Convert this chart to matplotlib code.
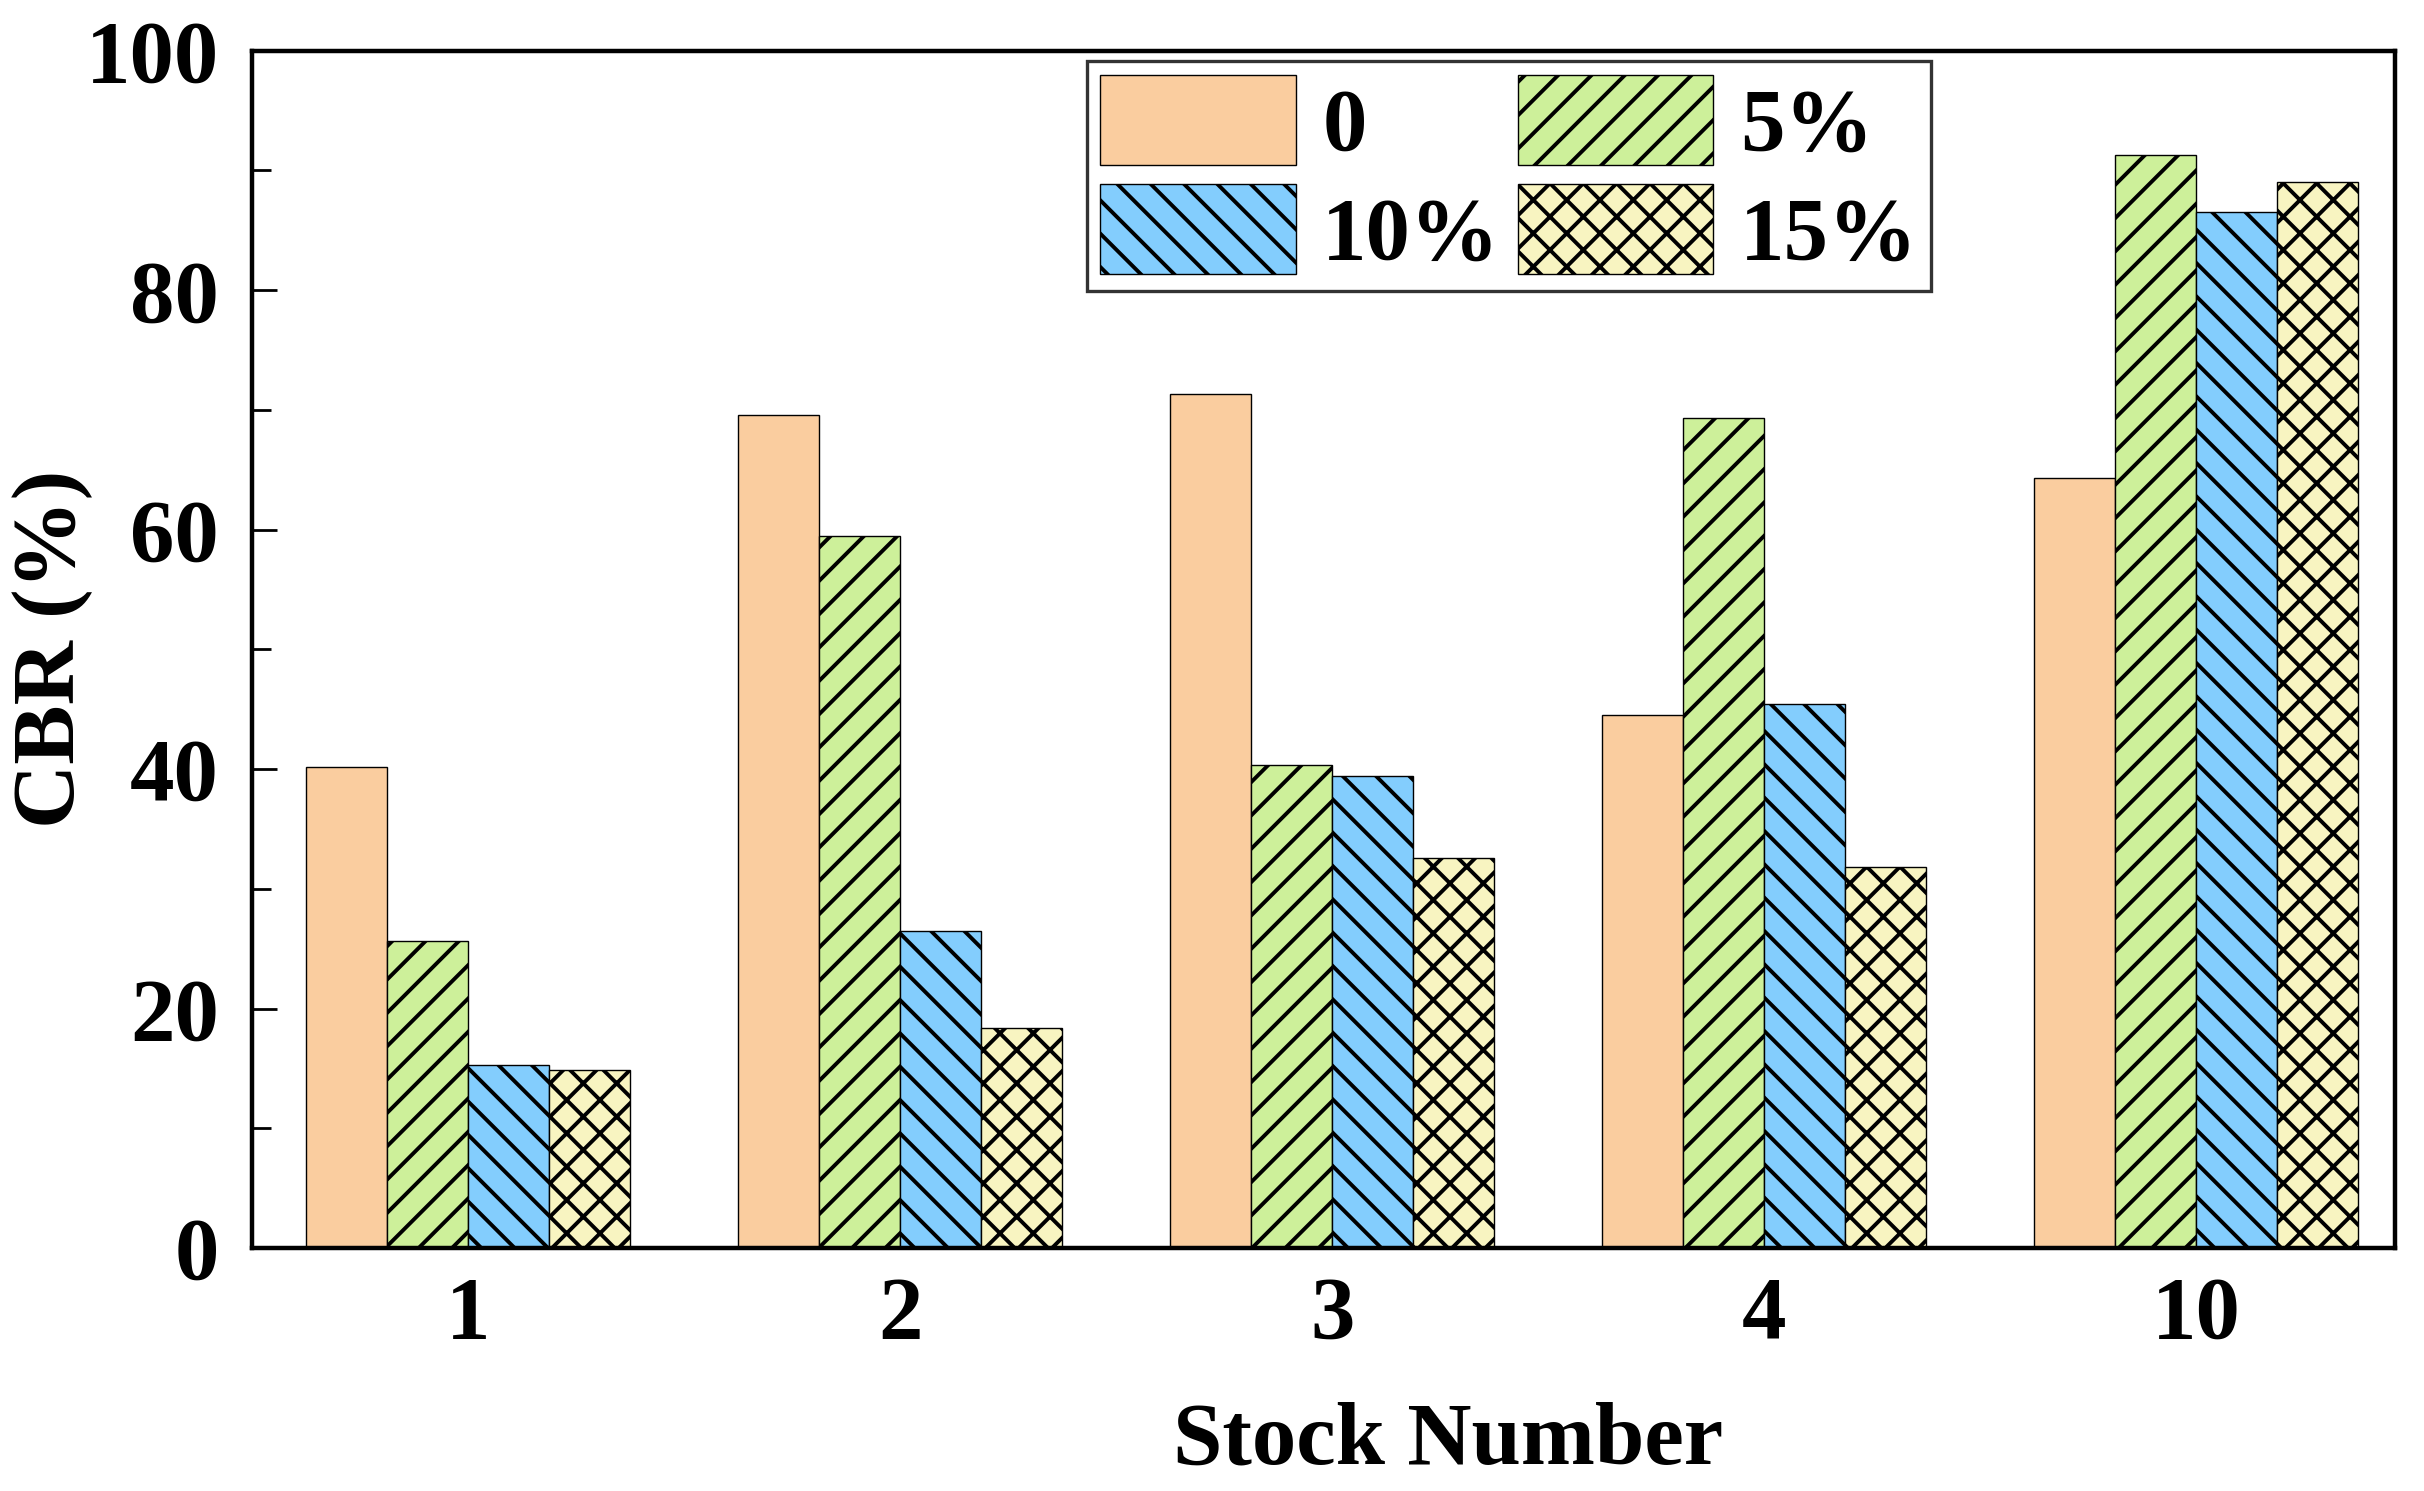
import numpy as np
import matplotlib
matplotlib.use("Agg")
import matplotlib.pyplot as plt
from matplotlib.ticker import MultipleLocator

categories = ["1", "2", "3", "4", "10"]
series_labels = ["0", "5%", "10%", "15%"]
cbr_0 = [40.2, 69.6, 71.3, 44.5, 64.3]
cbr_5 = [25.6, 59.5, 40.3, 69.3, 91.3]
cbr_10 = [15.3, 26.5, 39.4, 45.4, 86.5]
cbr_15 = [14.9, 18.4, 32.6, 31.8, 89.0]

colors = ["#FACD9F", "#CDF09A", "#83CDFD", "#F8F4C1"]
hatches = ["", "//", "\\\\", "xx"]

plt.rcParams["font.family"] = ["Liberation Serif", "DejaVu Serif"]
plt.rcParams["font.weight"] = "bold"
plt.rcParams["hatch.linewidth"] = 1.4
plt.rcParams["hatch.color"] = "black"

fig = plt.figure(figsize=(12.12, 7.455), dpi=200)
ax = fig.add_axes([0.104, 0.163, 0.884, 0.803])

x = np.arange(len(categories))
w = 0.1875
data = [cbr_0, cbr_5, cbr_10, cbr_15]
handles = []
for i, (vals, lab) in enumerate(zip(data, series_labels)):
    b = ax.bar(x + (i - 1.5) * w, vals, width=w, color=colors[i], edgecolor="black",
               linewidth=0.5, hatch=hatches[i], label=lab, zorder=2)
    handles.append(b)

ax.set_xlim(-0.5, 4.46)
ax.set_ylim(0, 100)
ax.set_xticks(x)
ax.set_xticklabels(categories)
ax.yaxis.set_major_locator(MultipleLocator(20))
ax.yaxis.set_minor_locator(MultipleLocator(10))

for s in ax.spines.values():
    s.set_linewidth(1.6)

ax.tick_params(axis="x", which="major", direction="in", length=10, width=1.6,
               labelsize=32, pad=10, top=False)
ax.tick_params(axis="y", which="major", direction="in", length=9, width=1.0,
               labelsize=32, pad=12, right=False)
ax.tick_params(axis="y", which="minor", direction="in", length=7, width=1.0,
               right=False)
for t in ax.get_xticklabels() + ax.get_yticklabels():
    t.set_fontweight("bold")

ax.set_xlabel("Stock Number", fontsize=32, fontweight="bold")
ax.xaxis.set_label_coords(0.558, -0.128)
ax.set_ylabel("CBR (%)", fontsize=32, fontweight="bold")
ax.yaxis.set_label_coords(-0.074, 0.5)

order = [0, 2, 1, 3]
leg = ax.legend([handles[k] for k in order], [series_labels[k] for k in order],
                ncol=2, loc="upper left", bbox_to_anchor=(0.3895, 0.991),
                fontsize=32, frameon=True, fancybox=False, shadow=False,
                handlelength=2.2, handleheight=1.18, handletextpad=0.3,
                columnspacing=0.2, borderpad=0.15, labelspacing=0.17,
                borderaxespad=0.0)
leg.get_frame().set_edgecolor("black")
leg.get_frame().set_linewidth(1.2)
for t in leg.get_texts():
    t.set_fontweight("bold")

fig.savefig("out.png", dpi=200)
